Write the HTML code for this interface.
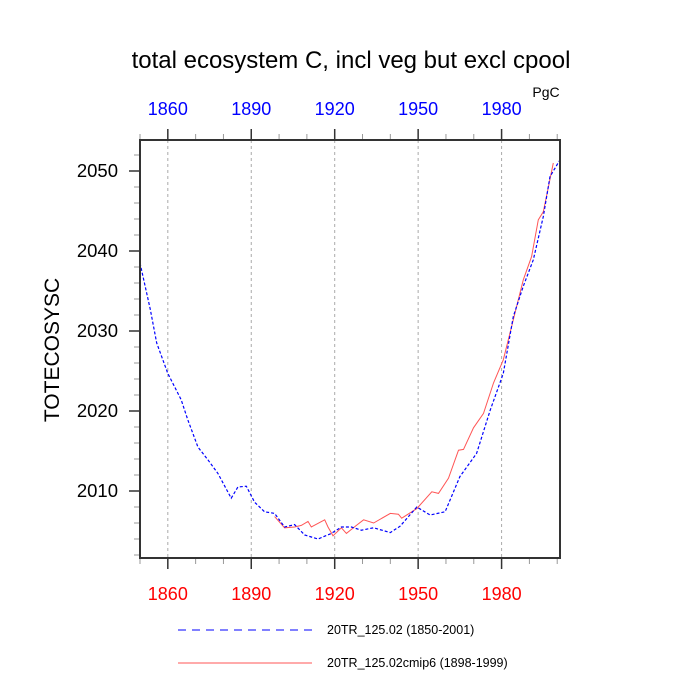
<!DOCTYPE html>
<html><head><meta charset="utf-8"><style>
html,body{margin:0;padding:0;background:#fff;}
svg{display:block;font-family:"Liberation Sans",Arial,sans-serif;}
</style></head><body>
<svg id="chart" width="700" height="700" viewBox="0 0 700 700">
<text x="351" y="68" font-size="24" text-anchor="middle">total ecosystem C, incl veg but excl cpool</text>
<text x="546" y="97" font-size="14" text-anchor="middle">PgC</text>
<text transform="translate(59,350) rotate(-90)" font-size="21" text-anchor="middle">TOTECOSYSC</text>
<g id="grid"></g>
<g id="axes"></g>
<g id="series"></g>
<rect x="140" y="140" width="420" height="418" fill="none" stroke="#333" stroke-width="2"/>
<g>
<line x1="178" y1="630" x2="312" y2="630" stroke="#00f" stroke-dasharray="8,6"/>
<text x="327" y="634" font-size="12.5">20TR_125.02 (1850-2001)</text>
<line x1="178" y1="663" x2="312" y2="663" stroke="#f55"/>
<text x="327" y="667" font-size="12.5">20TR_125.02cmip6 (1898-1999)</text>
</g>
</svg>
<script>
const xTicks=[1860,1890,1920,1950,1980];
const yTicks=[2010,2020,2030,2040,2050];
const blueYears=[1850,1853.7,1856,1860,1864.8,1867.2,1870.8,1874.4,1878,1882.8,1885.2,1888.2,1891.2,1894.8,1898.4,1902,1905.6,1909.2,1914,1918.8,1922.4,1926,1929.6,1934,1940,1943.5,1949.5,1954.3,1959.7,1965,1971,1975.9,1980.6,1984.2,1987.8,1991.4,1995,1997.4,2001];
const blueVals=[2038.5,2032.7,2028.5,2024.7,2021.4,2018.9,2015.5,2013.9,2012.2,2009.1,2010.5,2010.6,2008.6,2007.4,2007.2,2005.5,2005.8,2004.5,2004,2004.7,2005.5,2005.5,2005.1,2005.4,2004.8,2005.6,2008,2007,2007.4,2011.8,2014.7,2020.1,2024.7,2031.8,2035.6,2038.9,2044.3,2049.3,2051.4];
const redYears=[1898.4,1902,1905.6,1908,1910.4,1911.6,1916.4,1917.6,1919.4,1922.4,1924.2,1927.8,1930.4,1934,1940,1942.9,1944.1,1949.5,1954.9,1957.3,1960.9,1964.5,1966.3,1969.9,1973.5,1977.1,1980.6,1984.2,1987.8,1990.8,1993.2,1995,1998.6];
const redVals=[2006.8,2005.4,2005.5,2005.7,2006.2,2005.5,2006.4,2005.5,2004.4,2005.4,2004.7,2005.7,2006.4,2006,2007.2,2007.1,2006.6,2007.8,2009.9,2009.7,2011.6,2015.1,2015.2,2017.9,2019.7,2023.5,2026.4,2031.4,2036.4,2039.3,2043.9,2044.9,2051];
const X0=1850,X1=2001,L=140,R=560,T=140,B=558;
const xs=v=>L+(v-X0)*(R-L)/(X1-X0);
const ys=v=>491-(v-2010)*8;
const NS='http://www.w3.org/2000/svg';
function mk(tag,attrs,parent){const e=document.createElementNS(NS,tag);for(const k in attrs)e.setAttribute(k,attrs[k]);parent.appendChild(e);return e;}
const grid=document.getElementById('grid'),axes=document.getElementById('axes'),ser=document.getElementById('series');
for(let y=1850;y<=2000;y+=10){
  const major=xTicks.includes(y);const x=xs(y);
  let t=mk('line',{x1:x,x2:x,y1:B,y2:B+(major?11:6),stroke:major?'#333':'#999','stroke-width':major?1.5:1},axes);
  
  
  t=mk('line',{x1:x,x2:x,y1:T,y2:T-(major?11:6),stroke:major?'#333':'#999','stroke-width':major?1.5:1},axes);
  
  
}
xTicks.forEach(v=>{
  const x=xs(v);
  const g=mk('line',{x1:x,x2:x,y1:T,y2:B,stroke:'#aaa','stroke-dasharray':'3,3'},grid);
  
  
  let t=mk('text',{x:x,y:600,'font-size':18,fill:'#f00','text-anchor':'middle'},axes);t.textContent=v;
  
  
  t=mk('text',{x:x,y:115,'font-size':18,fill:'#00f','text-anchor':'middle'},axes);t.textContent=v;
  
  
});
for(let v=2002;v<=2052;v+=2){
  const major=yTicks.includes(v);const y=ys(v);
  const t=mk('line',{x1:L,x2:L-(major?11:6),y1:y,y2:y,stroke:major?'#333':'#999','stroke-width':major?1.5:1},axes);
  
  
}
yTicks.forEach(v=>{
  const t=mk('text',{x:118,y:ys(v)+6,'font-size':18.5,'text-anchor':'end'},axes);t.textContent=v;
  
  
});
function path(xv,yv){return xv.map((x,i)=>(i?'L':'M')+xs(x).toFixed(1)+','+ys(yv[i]).toFixed(1)).join(' ');}
const rp=mk('path',{d:path(redYears,redVals),fill:'none',stroke:'#f55','stroke-width':1},ser);


const bp=mk('path',{d:path(blueYears,blueVals),fill:'none',stroke:'#00f','stroke-width':1.2,'stroke-dasharray':'3,2'},ser);


</script>
</body></html>
